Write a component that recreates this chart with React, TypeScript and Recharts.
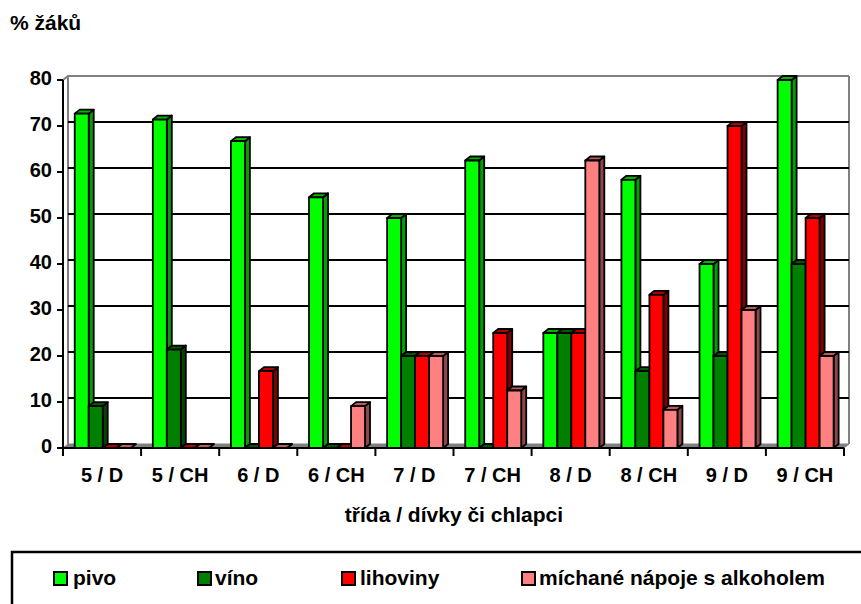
import React from "react";
import { BarChart, Bar, XAxis, YAxis, CartesianGrid } from "recharts";

const categories = ["5 / D", "5 / CH", "6 / D", "6 / CH", "7 / D", "7 / CH", "8 / D", "8 / CH", "9 / D", "9 / CH"];
const pivo = [72.7, 71.4, 66.7, 54.5, 50, 62.5, 25, 58.3, 40, 80];
const vino = [9.1, 21.4, 0, 0, 20, 0, 25, 16.7, 20, 40];
const lihoviny = [0, 0, 16.7, 0, 20, 25, 25, 33.3, 70, 50];
const michane = [0, 0, 0, 9.1, 20, 12.5, 62.5, 8.3, 30, 20];
const yTicks = [0, 10, 20, 30, 40, 50, 60, 70, 80];

const seriesNames = ["pivo", "víno", "lihoviny", "míchané nápoje s alkoholem"];

const data = categories.map((name, i) => ({
  name,
  pivo: pivo[i],
  vino: vino[i],
  lihoviny: lihoviny[i],
  michane: michane[i],
}));

const FONT = "'Liberation Sans', Arial, sans-serif";
const DX = 5;
const DY = 4;

// front / top / side shades for the fake 3D columns
const faces: Record<string, [string, string, string]> = {
  pivo: ["#00FF00", "#00B400", "#00A000"],
  vino: ["#008000", "#005800", "#004800"],
  lihoviny: ["#FF0000", "#B00000", "#800000"],
  michane: ["#FF8080", "#B85C5C", "#8C4848"],
};

const Column3D = (props: any) => {
  const { x, y, width, height, dataKey } = props;
  if (x == null || y == null) return null;
  const [front, top, side] = faces[dataKey] || [props.fill, props.fill, props.fill];
  const h = Math.max(0, height || 0);
  const w = width;
  return (
    <g stroke="#000" strokeWidth={1.8} strokeLinejoin="round">
      <polygon
        points={`${x + w},${y} ${x + w + DX},${y - DY} ${x + w + DX},${y + h - DY} ${x + w},${y + h}`}
        fill={side}
      />
      <polygon
        points={`${x},${y} ${x + DX},${y - DY} ${x + w + DX},${y - DY} ${x + w},${y}`}
        fill={top}
      />
      {h > 0 && <rect x={x} y={y} width={w} height={h} fill={front} />}
    </g>
  );
};

const gridLine = (p: any) => {
  const { x1, x2, y1 } = p;
  const top = typeof p.y === "number" ? p.y : 80;
  const bottom = typeof p.height === "number" ? top + p.height : 448;
  if (Math.abs(y1 - bottom) < 0.5) {
    return (
      <g key={p.key ?? `g-${y1}`}>
        <polygon
          points={`${x1},${y1} ${x1 + DX},${y1 - DY} ${x2 + DX},${y1 - DY} ${x2},${y1}`}
          fill="#808080"
          stroke="#808080"
        />
        <line x1={x1 + DX} y1={top - DY} x2={x1 + DX} y2={y1 - DY} stroke="#808080" strokeWidth={2} />
        <line x1={x2 + DX} y1={top - DY} x2={x2 + DX} y2={y1 - DY} stroke="#808080" strokeWidth={2} />
      </g>
    );
  }
  if (Math.abs(y1 - top) < 0.5) {
    return (
      <polyline
        key={p.key ?? `g-${y1}`}
        points={`${x1},${y1} ${x1 + DX},${y1 - DY} ${x2 + DX},${y1 - DY}`}
        fill="none"
        stroke="#808080"
        strokeWidth={2}
      />
    );
  }
  return (
    <line
      key={p.key ?? `g-${y1}`}
      x1={x1 + DX}
      y1={y1 - DY}
      x2={x2 + DX}
      y2={y1 - DY}
      stroke="#000"
      strokeWidth={2}
    />
  );
};

const CategoryTick = (props: any) => {
  const { x, y, payload, index } = props;
  const half = payload && payload.offset > 0 ? payload.offset : 39.05;
  const axisY = y - 8;
  return (
    <g>
      <line x1={x - half} y1={axisY} x2={x - half} y2={axisY + 8} stroke="#000" strokeWidth={2} />
      {index === categories.length - 1 && (
        <line x1={x + half} y1={axisY} x2={x + half} y2={axisY + 8} stroke="#000" strokeWidth={2} />
      )}
      <text x={x} y={y + 26} textAnchor="middle" fontFamily={FONT} fontWeight="bold" fontSize={20} fill="#000">
        {payload.value}
      </text>
    </g>
  );
};

const legendItems = [
  { key: "pivo", sq: 53, tx: 73 },
  { key: "vino", sq: 197, tx: 215 },
  { key: "lihoviny", sq: 341, tx: 360 },
  { key: "michane", sq: 521, tx: 539 },
];

export default function App() {
  return (
    <div style={{ position: "absolute", left: 0, top: 0, width: 861, height: 604, overflow: "hidden", background: "#fff", fontFamily: FONT }}>
      <BarChart
        width={861}
        height={604}
        data={data}
        margin={{ top: 80, right: 17, bottom: 126, left: 0 }}
        barCategoryGap="15%"
        barGap={0}
      >
        <CartesianGrid vertical={false} horizontal={gridLine} />
        <XAxis
          dataKey="name"
          height={30}
          interval={0}
          tickLine={false}
          axisLine={{ stroke: "#000", strokeWidth: 2 }}
          tick={<CategoryTick />}
        />
        <YAxis
          width={63}
          domain={[0, 80]}
          ticks={yTicks}
          interval={0}
          tickSize={6}
          tickMargin={5}
          axisLine={{ stroke: "#000", strokeWidth: 2 }}
          tickLine={{ stroke: "#000", strokeWidth: 2 }}
          tick={{ fill: "#000", fontFamily: FONT, fontWeight: "bold", fontSize: 20, dy: -2 }}
        />
        <Bar dataKey="pivo" name={seriesNames[0]} fill={faces.pivo[0]} shape={(p: any) => <Column3D {...p} dataKey="pivo" />} isAnimationActive={false} />
        <Bar dataKey="vino" name={seriesNames[1]} fill={faces.vino[0]} shape={(p: any) => <Column3D {...p} dataKey="vino" />} isAnimationActive={false} />
        <Bar dataKey="lihoviny" name={seriesNames[2]} fill={faces.lihoviny[0]} shape={(p: any) => <Column3D {...p} dataKey="lihoviny" />} isAnimationActive={false} />
        <Bar dataKey="michane" name={seriesNames[3]} fill={faces.michane[0]} shape={(p: any) => <Column3D {...p} dataKey="michane" />} isAnimationActive={false} />
      </BarChart>

      <svg width={861} height={604} style={{ position: "absolute", left: 0, top: 0, pointerEvents: "none" }}>
        <text x={10} y={30} fontFamily={FONT} fontWeight="bold" fontSize={21} fill="#000">% žáků</text>
        <text x={454} y={522} textAnchor="middle" fontFamily={FONT} fontWeight="bold" fontSize={21} fill="#000">
          třída / dívky či chlapci
        </text>
        <rect x={12} y={552} width={900} height={100} fill="none" stroke="#000" strokeWidth={2.5} />
        {legendItems.map((it, i) => (
          <g key={it.key}>
            <rect x={it.sq + 1} y={572} width={13} height={13} fill={faces[it.key][0]} stroke="#000" strokeWidth={2} />
            <text x={it.tx} y={585} fontFamily={FONT} fontWeight="bold" fontSize={21} fill="#000">
              {seriesNames[i]}
            </text>
          </g>
        ))}
      </svg>
    </div>
  );
}
